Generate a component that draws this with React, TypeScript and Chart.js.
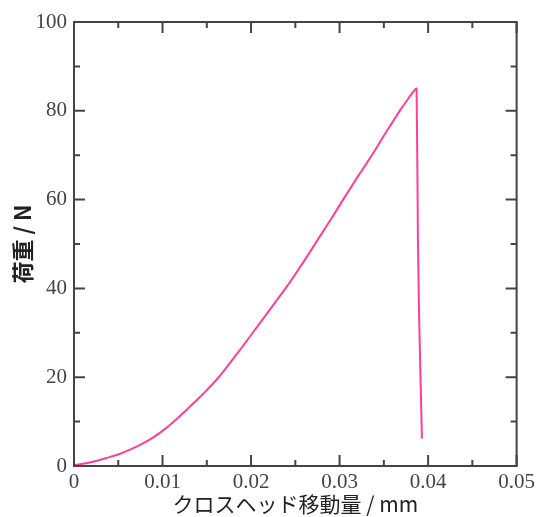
import React, { useEffect, useRef } from 'react';
import { Chart, registerables } from 'chart.js';

Chart.register(...registerables);

const displacement = [
  0, 0.001, 0.002, 0.003, 0.004, 0.005, 0.006, 0.007, 0.008, 0.009,
  0.010, 0.011, 0.012, 0.013, 0.014, 0.015, 0.016, 0.017, 0.018, 0.019,
  0.020, 0.021, 0.022, 0.023, 0.024, 0.025, 0.026, 0.027, 0.028, 0.029,
  0.030, 0.031, 0.032, 0.033, 0.034, 0.035, 0.036, 0.037, 0.038, 0.0384,
  0.0387, 0.03885, 0.0393,
];
const load = [
  0.2, 0.5, 0.9, 1.4, 2.0, 2.6, 3.4, 4.3, 5.3, 6.5,
  7.9, 9.5, 11.3, 13.2, 15.1, 17.1, 19.2, 21.6, 24.2, 26.8,
  29.5, 32.2, 34.9, 37.6, 40.3, 43.2, 46.2, 49.3, 52.4, 55.5,
  58.7, 61.9, 65.0, 68.0, 71.1, 74.4, 77.5, 80.6, 83.4, 84.5,
  85.0, 51.0, 6.2,
];
const xTickValues = [0, 0.01, 0.02, 0.03, 0.04, 0.05];
const yTickValues = [0, 20, 40, 60, 80, 100];
const xTitle = 'クロスヘッド移動量 / mm';
const yTitle = '荷重 / N';

const frameColor = '#444444';

const framePlugin = {
  id: 'frameTicks',
  afterDraw(chart: any) {
    const { ctx, chartArea } = chart;
    const { left, right, top, bottom } = chartArea;
    const xs = chart.scales.x;
    const ys = chart.scales.y;
    ctx.save();
    ctx.strokeStyle = frameColor;
    ctx.lineWidth = 2;
    ctx.beginPath();
    ctx.rect(left, top, right - left, bottom - top);
    ctx.stroke();
    const major = 11;
    const minor = 6;
    ctx.beginPath();
    for (let i = 0; i < xTickValues.length; i++) {
      const v = xTickValues[i];
      const p = xs.getPixelForValue(v);
      ctx.moveTo(p, bottom); ctx.lineTo(p, bottom - major);
      ctx.moveTo(p, top); ctx.lineTo(p, top + major);
      if (i < xTickValues.length - 1) {
        const m = xs.getPixelForValue((v + xTickValues[i + 1]) / 2);
        ctx.moveTo(m, bottom); ctx.lineTo(m, bottom - minor);
        ctx.moveTo(m, top); ctx.lineTo(m, top + minor);
      }
    }
    for (let i = 0; i < yTickValues.length; i++) {
      const v = yTickValues[i];
      const p = ys.getPixelForValue(v);
      ctx.moveTo(left, p); ctx.lineTo(left + major, p);
      ctx.moveTo(right, p); ctx.lineTo(right - major, p);
      if (i < yTickValues.length - 1) {
        const m = ys.getPixelForValue((v + yTickValues[i + 1]) / 2);
        ctx.moveTo(left, m); ctx.lineTo(left + minor, m);
        ctx.moveTo(right, m); ctx.lineTo(right - minor, m);
      }
    }
    ctx.stroke();
    ctx.restore();
  },
};

export default function App() {
  const ref = useRef<HTMLCanvasElement>(null);
  useEffect(() => {
    if (!ref.current) return;
    const data = displacement.map((x, i) => ({ x, y: load[i] }));
    const chart = new Chart(ref.current, {
      type: 'line',
      data: {
        datasets: [
          {
            data,
            borderColor: '#ff3d9a',
            borderWidth: 2,
            pointRadius: 0,
            tension: 0.3,
            cubicInterpolationMode: 'monotone',
            fill: false,
          },
        ],
      },
      options: {
        animation: false,
        responsive: false,
        maintainAspectRatio: false,
        layout: { padding: { left: 0, right: 21, top: 22, bottom: 0 } },
        plugins: { legend: { display: false }, tooltip: { enabled: false } },
        scales: {
          x: {
            type: 'linear',
            min: 0,
            max: 0.05,
            afterFit(scale: any) { scale.height = 51; },
            afterBuildTicks(scale: any) { scale.ticks = xTickValues.map((v) => ({ value: v })); },
            grid: { display: false, drawTicks: false },
            border: { display: false },
            ticks: {
              padding: 4,
              color: '#444',
              font: { family: '"Liberation Serif", serif', size: 21 },
              callback: (v: any) => (v === 0 ? '0' : Number(v).toFixed(2)),
              maxRotation: 0,
              autoSkip: false,
            },
            title: {
              display: true,
              text: xTitle,
              color: '#222',
              font: { family: '"Noto Sans CJK JP", sans-serif', size: 21 },
              padding: { top: 0, bottom: 0 },
            },
          },
          y: {
            type: 'linear',
            min: 0,
            max: 100,
            afterFit(scale: any) { scale.width = 74; },
            afterBuildTicks(scale: any) { scale.ticks = yTickValues.map((v) => ({ value: v })); },
            grid: { display: false, drawTicks: false },
            border: { display: false },
            ticks: {
              padding: 7,
              color: '#444',
              font: { family: '"Liberation Serif", serif', size: 21 },
              autoSkip: false,
            },
            title: {
              display: true,
              text: yTitle,
              color: '#222',
              font: { family: '"Noto Sans CJK JP", sans-serif', size: 22, weight: 'bold' },
              padding: { top: 9, bottom: 0 },
            },
          },
        },
      },
      plugins: [framePlugin],
    });
    return () => chart.destroy();
  }, []);
  return (
    <div style={{ position: 'fixed', left: 0, top: 0, width: 539, height: 517, background: '#fff' }}>
      <canvas ref={ref} width={539} height={517} style={{ width: 539, height: 517 }} />
    </div>
  );
}
